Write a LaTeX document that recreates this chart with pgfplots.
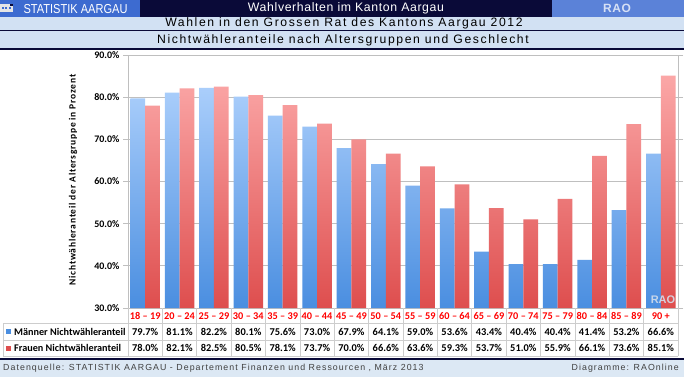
\documentclass[border=0pt]{standalone}
\usepackage{pgfplots}
\pgfplotsset{compat=1.18}
\usepackage{pgfplotstable}
\usepackage{fontspec}
\setmainfont{Liberation Sans}
\newfontfamily\carlito{Carlito}
\newfontfamily\carlitoS[LetterSpace=8]{Carlito}
\newfontfamily\narrowfont[FakeStretch=0.85]{Liberation Sans}
\newfontfamily\spacedfont[LetterSpace=12]{Liberation Sans}
\newfontfamily\titlefont[LetterSpace=13]{Liberation Sans}
\newfontfamily\topfont[LetterSpace=5]{Liberation Sans}
\definecolor{navy}{HTML}{0A0A38}
\definecolor{bannerL}{HTML}{3D6BD0}
\definecolor{bannerR}{HTML}{5B82D8}
\definecolor{lightrow}{HTML}{D2E1F3}
\definecolor{footbg}{HTML}{DCE8F4}
\definecolor{blueT}{HTML}{AACEFB}
\definecolor{blueB}{HTML}{4A8EE0}
\definecolor{redT}{HTML}{FBA7A7}
\definecolor{redB}{HTML}{DE4E4E}
\definecolor{gridc}{HTML}{BFBFBF}
\definecolor{cellc}{HTML}{CDCDCD}
\definecolor{wmark}{HTML}{D4DEEC}

\pgfplotstableread{
idx men women
0 79.7 78.0
1 81.1 82.1
2 82.2 82.5
3 80.1 80.5
4 75.6 78.1
5 73.0 73.7
6 67.9 70.0
7 64.1 66.6
8 59.0 63.6
9 53.6 59.3
10 43.4 53.7
11 40.4 51.0
12 40.4 55.9
13 41.4 66.1
14 53.2 73.6
15 66.6 85.1
}\data

\begin{document}
\begin{tikzpicture}[x=1pt,y=1pt]
\fill[white] (0,0) rectangle (684,-377);
% --- banner row 1
\fill[navy] (0,0) rectangle (684,-16.7);
\fill[bannerL] (0,0) rectangle (140,-16.7);
\fill[bannerR] (552,0) rectangle (684,-16.7);
\fill[white!80!gray] (0,-4) rectangle (13,-12);
\foreach \i in {0,1,2}{\fill[bannerL] (1.5+3.5*\i,-7.5) rectangle (3.5+3.5*\i,-9.5);}
\fill[navy] (10,-4) rectangle (13,-6);
\node[white, font=\narrowfont\fontsize{13}{14}\selectfont] at (75.5,-8.6) {STATISTIK AARGAU};
\node[white, font=\topfont\fontsize{12.3}{13}\selectfont] at (346,-8.6) {Wahlverhalten im Kanton Aargau};
\node[white!75!bannerR, font=\topfont\bfseries\fontsize{12}{13}\selectfont] at (617,-8.6) {RAO};
% --- row 2, 3
\fill[lightrow] (0,-16.7) rectangle (684,-30);
\fill[navy] (0,-30) rectangle (684,-31.5);
\fill[lightrow] (0,-31.5) rectangle (684,-48);
\fill[navy] (0,-48) rectangle (684,-49.6);
\node[black, font=\titlefont\fontsize{12.2}{13}\selectfont] at (344,-23.5) {Wahlen in den Grossen Rat des Kantons Aargau 2012};
\node[black, font=\titlefont\fontsize{12.2}{13}\selectfont] at (343,-40) {Nichtwähleranteile nach Altersgruppen und Geschlecht};
% --- footer
\fill[navy] (0,-358.4) rectangle (684,-360);
\fill[footbg] (0,-360) rectangle (684,-377);
\node[anchor=west, inner sep=0pt, text=black!75, font=\spacedfont\fontsize{8.8}{9}\selectfont] at (3,-368.5) {Datenquelle: STATISTIK AARGAU - Departement Finanzen und Ressourcen , März 2013};
\node[anchor=east, inner sep=0pt, text=black!75, font=\spacedfont\fontsize{8.8}{9}\selectfont] at (679,-368.5) {Diagramme: RAOnline};

\begin{axis}[
  at={(128pt,-308pt)}, anchor=south west,
  scale only axis, width=550pt, height=253pt,
  xmin=-0.5, xmax=15.5, ymin=30, ymax=90,
  separate axis lines,
  x axis line style={draw=none},
  y axis line style={gridc, line width=0.8pt},
  ybar=0pt, bar width=14.7pt,
  ytick={30,40,...,90},
  yticklabels={30.0\%,40.0\%,50.0\%,60.0\%,70.0\%,80.0\%,90.0\%},
  yticklabel style={font=\carlito\bfseries\fontsize{10}{11}\selectfont, black},
  ytick style={gridc, line width=0.8pt},
  tick align=outside, major tick length=5pt,
  xtick={0,...,15},
  xtick style={draw=none},
  xticklabels={18 – 19,20 – 24,25 – 29,30 – 34,35 – 39,40 – 44,45 – 49,50 – 54,55 – 59,60 – 64,65 – 69,70 – 74,75 – 79,80 – 84,85 – 89,90 +},
  xticklabel style={font=\carlito\bfseries\fontsize{10.3}{11}\selectfont, red, anchor=center, yshift=-3pt},
  ymajorgrids, major grid style={gridc, line width=0.8pt},
  ylabel={Nichtwähleranteil der Altersgruppe in Prozent},
  ylabel style={font=\carlitoS\bfseries\fontsize{9.5}{10}\selectfont, at={(axis description cs:-0.1,0.506)}, anchor=center},
  clip=false,
]
\addplot[draw=none, top color=blueT, bottom color=blueB] table[x=idx, y=men] {\data};
\addplot[draw=none, top color=redT, bottom color=redB] table[x=idx, y=women] {\data};
\end{axis}
% watermark
\node[text=wmark, text opacity=0.9, font=\bfseries\fontsize{11}{12}\selectfont] at (663,-299.5) {RAO};
% --- data table
\foreach \k in {0,...,16}{\draw[cellc, line width=0.7pt] ({128+34.375*\k},-308) -- ({128+34.375*\k},-356);}
\draw[cellc, line width=0.7pt] (3,-323) -- (678,-323);
\draw[cellc, line width=0.7pt] (3,-340) -- (678,-340);
\draw[cellc, line width=0.7pt] (3,-356) -- (678,-356);
\draw[cellc, line width=0.7pt] (3,-323) -- (3,-356);
\fill[blueB] (6,-328.8) rectangle (11,-334);
\fill[redB] (6,-345.5) rectangle (11,-350.7);
\node[anchor=west, inner sep=0pt, font=\carlito\bfseries\fontsize{10.2}{11}\selectfont] at (14,-331.5) {Männer Nichtwähleranteil};
\node[anchor=west, inner sep=0pt, font=\carlito\bfseries\fontsize{10.2}{11}\selectfont] at (14,-348) {Frauen Nichtwähleranteil};
\pgfplotstableforeachcolumnelement{men}\of\data\as\cell{%
  \pgfmathsetmacro\xc{128+34.375*(\pgfplotstablerow+0.5)}%
  \node[font=\carlito\bfseries\fontsize{10.4}{11}\selectfont] at (\xc,-331.5) {\cell\%};}
\pgfplotstableforeachcolumnelement{women}\of\data\as\cell{%
  \pgfmathsetmacro\xc{128+34.375*(\pgfplotstablerow+0.5)}%
  \node[font=\carlito\bfseries\fontsize{10.4}{11}\selectfont] at (\xc,-348) {\cell\%};}
\pgfresetboundingbox
\path[use as bounding box] (0,0) rectangle (684,-377);
\end{tikzpicture}
\end{document}
